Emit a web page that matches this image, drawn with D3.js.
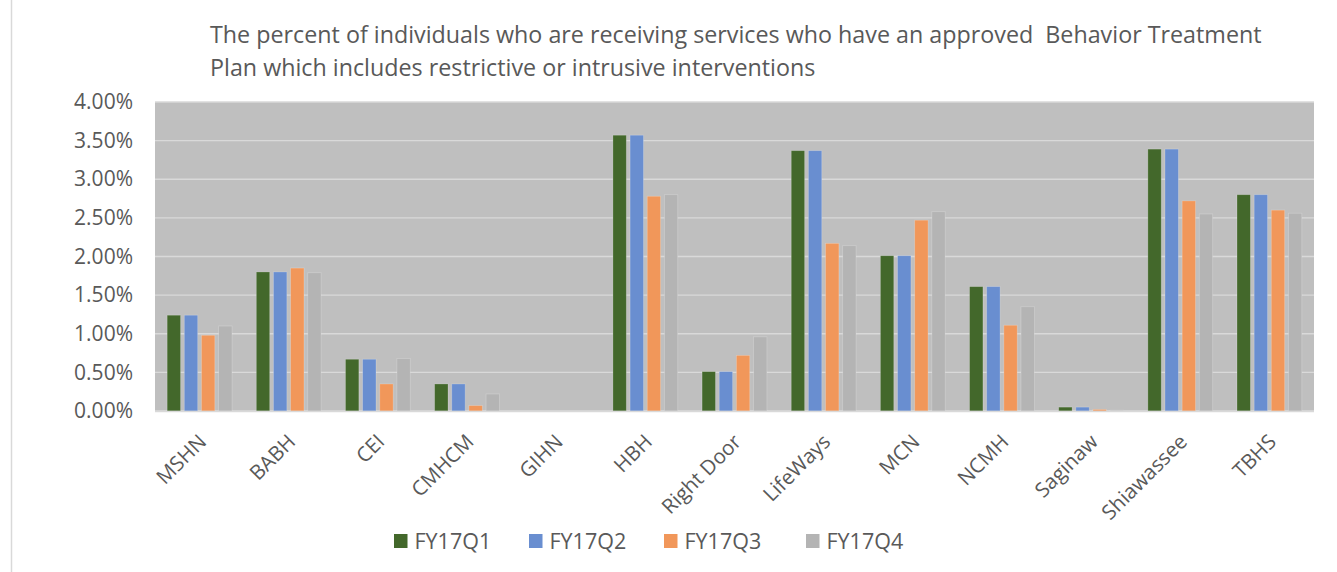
<!DOCTYPE html>
<html><head><meta charset="utf-8">
<script src="https://cdn.jsdelivr.net/npm/d3@7"></script>
<style>body{margin:0;background:#fff;} svg{display:block;font-family:"Open Sans",sans-serif;}</style>
</head><body>
<svg id="c" width="1337" height="572"></svg>
<script>
const categories = ["MSHN","BABH","CEI","CMHCM","GIHN","HBH","Right Door","LifeWays","MCN","NCMH","Saginaw","Shiawassee","TBHS"];
const seriesNames = ["FY17Q1","FY17Q2","FY17Q3","FY17Q4"];
const q1 = [1.24,1.80,0.67,0.35,0,3.57,0.51,3.37,2.01,1.61,0.05,3.39,2.80];
const q2 = [1.24,1.80,0.67,0.35,0,3.57,0.51,3.37,2.01,1.61,0.05,3.39,2.80];
const q3 = [0.98,1.85,0.35,0.07,0,2.78,0.72,2.17,2.47,1.11,0.02,2.72,2.60];
const q4 = [1.10,1.79,0.68,0.22,0,2.80,0.96,2.14,2.58,1.35,0.01,2.55,2.56];
const yTicks = [0,0.5,1,1.5,2,2.5,3,3.5,4];
const titleLines = ["The percent of individuals who are receiving services who have an approved  Behavior Treatment","Plan which includes restrictive or intrusive interventions"];
const colors = ["#43682b","#698ed0","#f1975a","#b4b4b4"];

const series = [q1,q2,q3,q4];
const svg = d3.select("#c");
const L=155, R=1314, T=102, B=411;
const textColor = "#595959";

// chart-area border
svg.append("line").attr("x1",11.5).attr("x2",11.5).attr("y1",0).attr("y2",572).attr("stroke","#d9d9d9").attr("stroke-width",1.5);

const y = d3.scaleLinear().domain([0,4]).range([B,T]);
const x0 = d3.scaleBand().domain(categories).range([L,R]).paddingInner(0).paddingOuter(0);
const groupW = x0.bandwidth()*0.727;
const x1 = d3.scaleBand().domain(seriesNames).range([0,groupW]).paddingInner(0.22).paddingOuter(0);

svg.append("rect").attr("x",L).attr("y",T).attr("width",R-L).attr("height",B-T).attr("fill","#bfbfbf");

// gridlines
svg.append("g").selectAll("line").data(yTicks).join("line")
  .attr("x1",L).attr("x2",R).attr("y1",d=>y(d)).attr("y2",d=>y(d))
  .attr("stroke","#d9d9d9").attr("stroke-width",1.3);

// bars
const g = svg.append("g");
categories.forEach((c,i)=>{
  const gx = x0(c) + (x0.bandwidth()-groupW)/2;
  seriesNames.forEach((s,j)=>{
    const v = series[j][i];
    if (v<=0) return;
    g.append("rect").attr("x",gx+x1(s)).attr("width",x1.bandwidth())
      .attr("y",y(v)).attr("height",B-y(v)).attr("fill",colors[j])
      .attr("stroke","rgba(255,255,255,0.25)").attr("stroke-width",0.8);
  });
});

// bottom axis line
svg.append("line").attr("x1",L).attr("x2",R).attr("y1",B+0.5).attr("y2",B+0.5).attr("stroke","#d9d9d9").attr("stroke-width",1.5);

// y axis
const yAxis = d3.axisLeft(y).tickValues(yTicks).tickSize(0).tickPadding(0).tickFormat(d=>d.toFixed(2)+"%");
const ya = svg.append("g").attr("transform",`translate(${133},0)`).call(yAxis);
ya.select(".domain").remove();
ya.selectAll("text").attr("fill",textColor).style("font-size","21px").style("font-family","'Open Sans',sans-serif");

// x axis
const xAxis = d3.axisBottom(x0).tickSize(0).tickPadding(0);
const xa = svg.append("g").attr("transform",`translate(0,${B})`).call(xAxis);
xa.select(".domain").remove();
xa.selectAll("text").attr("fill",textColor).style("font-size","20.5px").style("font-family","'Open Sans',sans-serif")
  .attr("text-anchor","end").attr("dy",null).attr("y",0)
  .attr("transform","translate(8,32) rotate(-45)");

// title
const tg = svg.append("g");
titleLines.forEach((t,i)=>{
  tg.append("text").attr("x",210).attr("y",43+i*33).text(t)
    .attr("fill",textColor).style("font-size","20px").attr("xml:space","preserve").style("white-space","pre");
});
const first = tg.select("text").node();
const w = first.getComputedTextLength();
const fs = 20*1052/w;
tg.selectAll("text").style("font-size",fs+"px");

// legend
const lx = [394,529,664,806];
const lg = svg.append("g");
seriesNames.forEach((s,j)=>{
  lg.append("rect").attr("x",lx[j]).attr("y",534).attr("width",13.5).attr("height",14).attr("fill",colors[j]);
  lg.append("text").attr("x",lx[j]+20.5).attr("y",549).text(s).attr("fill",textColor).style("font-size","21.5px");
});
</script>
</body></html>
